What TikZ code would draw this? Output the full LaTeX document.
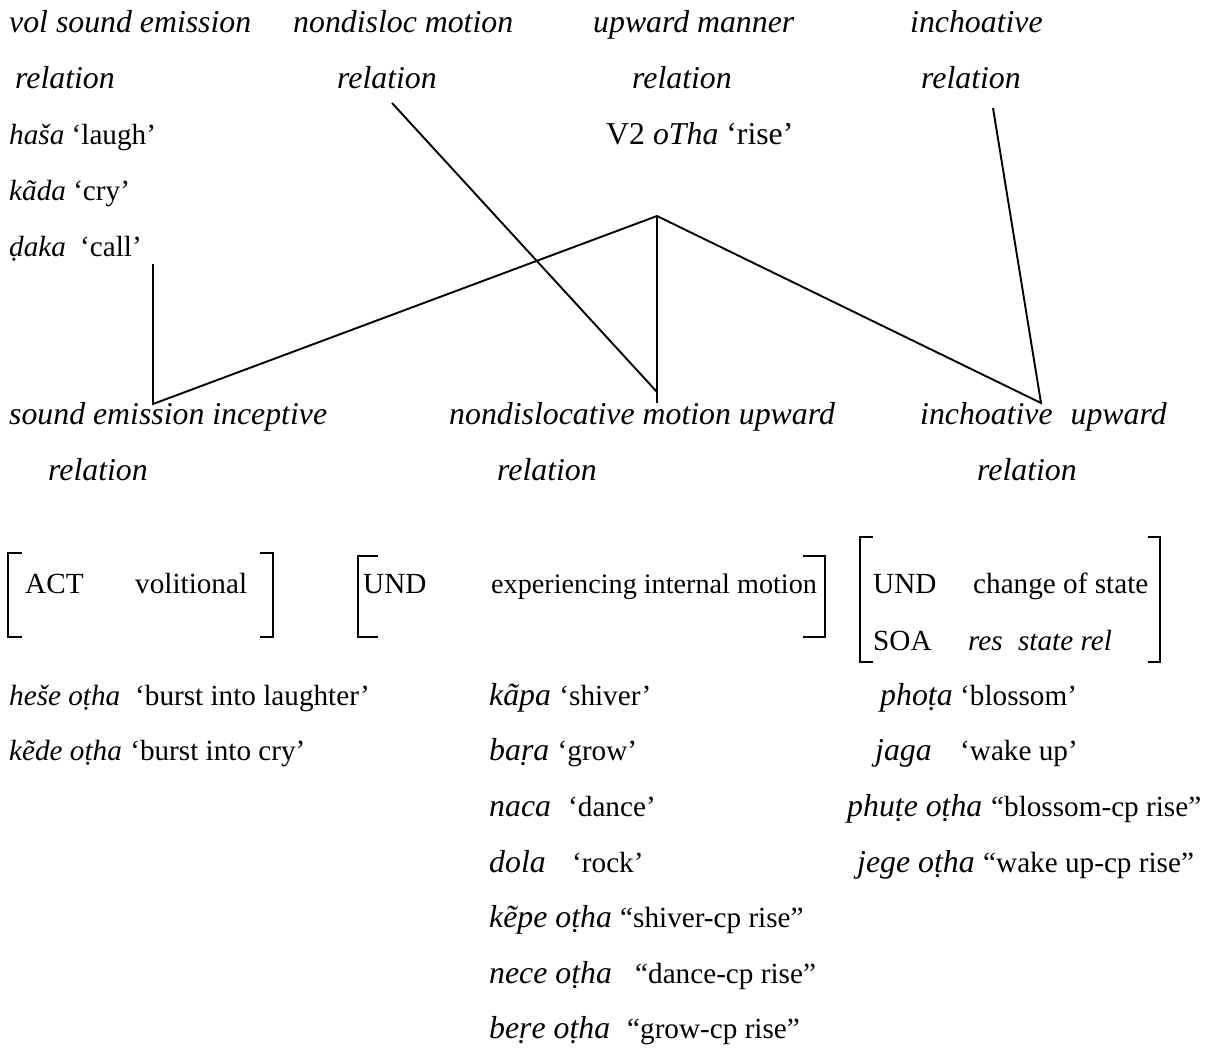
\documentclass[tikz,border=0pt]{standalone}
\usepackage{fontspec}
\setmainfont{Liberation Serif}
\begin{document}
\begin{tikzpicture}[x=1pt,y=-1pt,
  txt/.style={anchor=base west,inner sep=0pt,font=\fontsize{31.8}{38}\selectfont},
  rel/.style={anchor=base west,inner sep=0pt,font=\fontsize{31.8}{38}\selectfont\itshape},
  word/.style={anchor=base west,inner sep=0pt,font=\fontsize{31.8}{38}\selectfont\itshape},
  sword/.style={anchor=base west,inner sep=0pt,font=\fontsize{29.2}{35}\selectfont\itshape},
  gloss/.style={anchor=base west,inner sep=0pt,font=\fontsize{29.2}{35}\selectfont},
  feat/.style={anchor=base west,inner sep=0pt,font=\fontsize{29.2}{35}\selectfont},
  link/.style={line width=1.9pt},
  brk/.style={line width=1.9pt}]
\useasboundingbox (0,0) rectangle (1220,1047);

% ---- upper relations and their verbs
\node[rel] (h1a) at (9,32)  {vol sound emission};
\node[rel] (h1b) at (15,88) {relation};
\node[gloss] (h1c) at (9,144) {\textit{haša} ‘laugh’};
\node[gloss] (h1d) at (9,200) {\textit{kãda} ‘cry’};
\node[sword] (h1e) at (9,256) {ḍaka};
\node[gloss] (h1f) at (80,256) {‘call’};

\node[rel] (h2a) at (293,32) {nondisloc motion};
\node[rel] (h2b) at (337,88) {relation};

\node[rel] (h3a) at (593,32)  {upward manner};
\node[rel] (h3b) at (632,88)  {relation};
\node[txt] (h3c) at (606,144) {V2 \textit{oTha} ‘rise’};

\node[rel] (h4a) at (910,32) {inchoative};
\node[rel] (h4b) at (921,88) {relation};

% ---- derived relations
\node[rel] (m1a) at (9,424)   {sound emission inceptive};
\node[rel] (m1b) at (48,480)  {relation};
\node[rel] (m2a) at (449,424) {nondislocative motion upward};
\node[rel] (m2b) at (497,480) {relation};
\node[rel] (m3a) at (920,424) {inchoative\hspace{10pt} upward};
\node[rel] (m3b) at (977,480) {relation};

% ---- inheritance links
\coordinate (c1top) at (153,264);
\coordinate (c1bot) at (153,404);
\coordinate (apex)  at (657,216);
\coordinate (c2bot) at (657,403);
\coordinate (c2top) at (392,103);
\coordinate (c2end) at (657,392);
\coordinate (c3bot) at (1041,403);
\coordinate (c3top) at (993,108);
\draw[link] (c1top) -- (c1bot) -- (apex) -- (c3bot) -- (c3top);
\draw[link] (apex) -- (c2bot);
\draw[link] (c2top) -- (c2end);

% ---- feature matrices
\draw[brk] (22,553) -- (8,553) -- (8,637) -- (22,637);
\draw[brk] (260,553) -- (273,553) -- (273,637) -- (260,637);
\node[feat] (act) at (25,593)  {ACT};
\node[feat] (vol) at (135,593) {volitional};

\draw[brk] (378,556) -- (358,556) -- (358,637) -- (378,637);
\draw[brk] (803,556) -- (825,556) -- (825,637) -- (803,637);
\node[feat] (und1) at (363,593) {UND};
\node[feat,font=\fontsize{28.2}{34}\selectfont] (exp) at (491,593) {experiencing internal motion};

\draw[brk] (873,537) -- (860,537) -- (860,662) -- (873,662);
\draw[brk] (1148,537) -- (1160,537) -- (1160,662) -- (1148,662);
\node[feat] (und2) at (873,593) {UND};
\node[feat] (cos)  at (973,593) {change of state};
\node[feat] (soa)  at (873,650) {SOA};
\node[feat] (rsr)  at (968,650) {\textit{res\hspace{8pt} state rel}};

% ---- example verbs: italic form, then its gloss
\node[sword] (w1a) at (9,705) {heše oṭha};
\node[gloss] (g1a) at (135,705) {‘burst into laughter’};
\node[sword] (w1b) at (9,760) {kẽde oṭha};
\node[gloss] (g1b) at ([xshift=8pt]w1b.base east) {‘burst into cry’};

\node[word]  (w2a) at (489,705)  {kãpa};
\node[gloss] (g2a) at ([xshift=8pt]w2a.base east) {‘shiver’};
\node[word]  (w2b) at (489,760)  {baṛa};
\node[gloss] (g2b) at ([xshift=8pt]w2b.base east) {‘grow’};
\node[word]  (w2c) at (489,816)  {naca};
\node[gloss] (g2c) at (568,816)  {‘dance’};
\node[word]  (w2d) at (489,872)  {dola};
\node[gloss] (g2d) at (572,872)  {‘rock’};
\node[word]  (w2e) at (489,927)  {kẽpe oṭha};
\node[gloss] (g2e) at (620,927)  {“shiver-cp rise”};
\node[word]  (w2f) at (489,983)  {nece oṭha};
\node[gloss] (g2f) at (635,983)  {“dance-cp rise”};
\node[word]  (w2g) at (489,1038) {beṛe oṭha};
\node[gloss] (g2g) at (627,1038) {“grow-cp rise”};

\node[word]  (w3a) at (880,705) {phoṭa};
\node[gloss] (g3a) at (960,705) {‘blossom’};
\node[word]  (w3b) at (875,760) {jaga};
\node[gloss] (g3b) at (960,760) {‘wake up’};
\node[word]  (w3c) at (847,816) {phuṭe oṭha};
\node[gloss] (g3c) at (991,816) {“blossom-cp rise”};
\node[word]  (w3d) at (857,872) {jege oṭha};
\node[gloss] (g3d) at (983,872) {“wake up-cp rise”};
\end{tikzpicture}
\end{document}
